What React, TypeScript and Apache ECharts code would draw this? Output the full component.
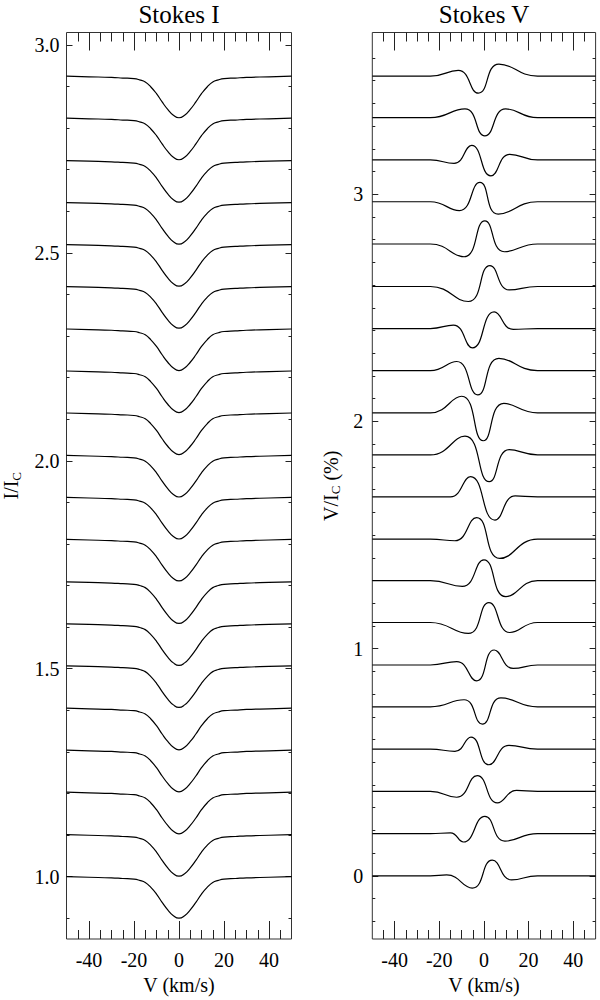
import React, { useEffect, useRef } from "react";
import * as echarts from "echarts";

// ---------- data ----------
const xMajorTicks = [-40, -20, 0, 20, 40];
const xMinorTicks = [-45, -35, -30, -25, -15, -10, -5, 5, 10, 15, 25, 30, 35, 45];

const yTicksI = [1.0, 1.5, 2.0, 2.5, 3.0];
const yMinorI = [0.9, 1.1, 1.2, 1.3, 1.4, 1.6, 1.7, 1.8, 1.9, 2.1, 2.2, 2.3, 2.4, 2.6, 2.7, 2.8, 2.9];

const yTicksV = [0, 1, 2, 3];
const yMinorV = [
  -0.2, -0.1, 0.1, 0.2, 0.3, 0.4, 0.5, 0.6, 0.7, 0.8, 0.9, 1.1, 1.2, 1.3, 1.4, 1.5, 1.6, 1.7, 1.8, 1.9,
  2.1, 2.2, 2.3, 2.4, 2.5, 2.6, 2.7, 2.8, 2.9, 3.1, 3.2, 3.3, 3.4, 3.5, 3.6,
];

// Stokes I: continuum levels of the 20 stacked profiles (bottom to top)
const baselinesI = [
  1.0, 1.101, 1.203, 1.304, 1.405, 1.507, 1.608, 1.709, 1.811, 1.912,
  2.013, 2.115, 2.216, 2.317, 2.419, 2.52, 2.621, 2.722, 2.824, 2.925,
];
// line depth (in I/Ic) and the profile shape (fraction of depth)
const depthI = 0.1;
const profileX = [-50, -40, -30, -25, -20, -17.5, -15, -12.5, -10, -7.5, -5, -2.5, 0, 2.5, 5, 7.5, 10, 12.5, 15, 17.5, 20, 25, 30, 40, 50];
const profileDepth = [0.0, 0.015, 0.03, 0.045, 0.06, 0.09, 0.14, 0.26, 0.42, 0.62, 0.8, 0.94, 1.0, 0.94, 0.8, 0.62, 0.42, 0.26, 0.14, 0.09, 0.06, 0.045, 0.03, 0.015, 0.0];

// Stokes V: offsets of the 20 stacked profiles (bottom to top), in %
const baselinesV = [
  0, 0.186, 0.372, 0.558, 0.744, 0.928, 1.115, 1.299, 1.482, 1.668,
  1.853, 2.038, 2.224, 2.409, 2.594, 2.781, 2.967, 3.151, 3.337, 3.52,
];
// extrema of each V profile: [velocity, amplitude]
const vExtrema = [
  [[-16.7, 0.004], [-5.2, -0.054], [3.7, 0.069], [12.4, -0.018]],
  [[-15, 0.003], [-9.2, -0.037], [0.4, 0.076], [9.4, -0.033]],
  [[-12.2, -0.026], [-3.0, 0.069], [6.0, -0.051], [14.6, 0.004]],
  [[-13, -0.01], [-5.8, 0.053], [2.2, -0.069], [11.2, 0.016]],
  [[-8.9, 0.031], [-0.7, -0.076], [7.6, 0.039]],
  [[-12.2, 0.015], [-3.3, -0.07], [4.6, 0.066], [13.1, -0.015]],
  [[-7.0, -0.048], [2.2, 0.088], [11.6, -0.044]],
  [[-9.7, -0.025], [0.0, 0.092], [9.8, -0.07]],
  [[-13, -0.007], [-3.3, 0.095], [7.1, -0.085]],
  [[-15, 0.0], [-6.0, 0.089], [4.9, -0.102], [14, 0.004]],
  [[-8.5, 0.082], [2.4, -0.118], [11.3, 0.023]],
  [[-10, 0.073], [-0.3, -0.123], [8.9, 0.042]],
  [[-12.2, 0.04], [-2.8, -0.107], [6.7, 0.054]],
  [[-13.7, 0.015], [-5.1, -0.085], [4.6, 0.073], [13.1, -0.004]],
  [[-7.0, -0.066], [2.7, 0.092], [11.3, -0.015]],
  [[-8.9, -0.056], [0.4, 0.102], [9.1, -0.034]],
  [[-11, -0.039], [-1.8, 0.085], [6.4, -0.054]],
  [[-13.4, -0.015], [-5.5, 0.064], [3.1, -0.07], [11.6, 0.025]],
  [[-8.5, 0.039], [0.4, -0.08], [9.7, 0.039]],
  [[-11.5, 0.025], [-2.5, -0.075], [6.7, 0.053]],
];
const vEdgesLeft = [[-50, 0], [-24, 0]];
const vEdgesRight = [[24, 0], [50, 0]];

// ---------- chart ----------
const FONT = "'Liberation Serif', 'Times New Roman', serif";
const TICK_COLOR = "#222";

function xAxisDef(gridIndex: number, position: string, values: number[], len: number, withLabels: boolean) {
  const ax: any = {
    type: "value",
    gridIndex,
    position,
    min: -50,
    max: 50,
    axisLine: { show: false, onZero: false },
    splitLine: { show: false },
    axisTick: { show: true, inside: true, length: len, customValues: values, lineStyle: { color: TICK_COLOR, width: 1 } },
    axisLabel: withLabels
      ? { show: true, customValues: values, fontSize: 20, color: "#000", fontFamily: FONT, margin: 11 }
      : { show: false },
  };
  if (withLabels) {
    ax.name = "V (km/s)";
    ax.nameLocation = "middle";
    ax.nameGap = 36;
    ax.nameTextStyle = { fontSize: 20, color: "#000", fontFamily: FONT };
  }
  return ax;
}

function yAxisDef(
  gridIndex: number,
  position: string,
  min: number,
  max: number,
  values: number[],
  len: number,
  labels: null | { fmt: (v: number) => string; name: string; gap: number; margin: number }
) {
  const ax: any = {
    type: "value",
    gridIndex,
    position,
    min,
    max,
    axisLine: { show: false, onZero: false },
    splitLine: { show: false },
    axisTick: { show: true, inside: true, length: len, customValues: values, lineStyle: { color: TICK_COLOR, width: 1 } },
    axisLabel: labels
      ? { show: true, customValues: values, fontSize: 20, color: "#000", fontFamily: FONT, margin: labels.margin, formatter: labels.fmt }
      : { show: false },
  };
  if (labels) {
    ax.name = labels.name;
    ax.nameLocation = "middle";
    ax.nameGap = labels.gap;
    ax.nameTextStyle = {
      fontSize: 20,
      color: "#000",
      fontFamily: FONT,
      rich: {
        a: { fontSize: 20, fontFamily: FONT, color: "#000" },
        b: { fontSize: 13, fontFamily: FONT, color: "#000", verticalAlign: "bottom", padding: [10, 0, 0, 0] },
      },
    };
  }
  return ax;
}

export default function App() {
  const ref = useRef<HTMLDivElement>(null);

  useEffect(() => {
    if (!ref.current) return;
    const chart = echarts.init(ref.current, null, { renderer: "svg" });

    const series: any[] = [];
    baselinesI.forEach((b) => {
      series.push({
        type: "line",
        xAxisIndex: 0,
        yAxisIndex: 0,
        showSymbol: false,
        smooth: true,
        silent: true,
        lineStyle: { color: "#000", width: 1.2 },
        data: profileX.map((x, k) => [x, b - depthI * profileDepth[k]]),
      });
    });
    baselinesV.forEach((b, i) => {
      const pts = [...vEdgesLeft, ...vExtrema[i], ...vEdgesRight];
      series.push({
        type: "line",
        xAxisIndex: 4,
        yAxisIndex: 4,
        showSymbol: false,
        smooth: 0.5,
        silent: true,
        lineStyle: { color: "#000", width: 1.2 },
        data: pts.map((p) => [p[0], b + p[1]]),
      });
    });

    const gridStyle = { show: true, borderColor: "#333", borderWidth: 1, backgroundColor: "transparent" };

    chart.setOption({
      animation: false,
      textStyle: { fontFamily: FONT },
      grid: [
        { ...gridStyle, left: 66.5, width: 225, top: 32.5, height: 911 },
        { ...gridStyle, left: 372.3, width: 223.3, top: 32.5, height: 911 },
      ],
      xAxis: [
        xAxisDef(0, "bottom", xMajorTicks, 18, true),
        xAxisDef(0, "bottom", xMinorTicks, 9, false),
        xAxisDef(0, "top", xMajorTicks, 18, false),
        xAxisDef(0, "top", xMinorTicks, 9, false),
        xAxisDef(1, "bottom", xMajorTicks, 18, true),
        xAxisDef(1, "bottom", xMinorTicks, 9, false),
        xAxisDef(1, "top", xMajorTicks, 18, false),
        xAxisDef(1, "top", xMinorTicks, 9, false),
      ],
      yAxis: [
        yAxisDef(0, "left", 0.85, 3.03, yTicksI, 6, { fmt: (v) => v.toFixed(1), name: "{a|I/I}{b|C}", gap: 44, margin: 7 }),
        yAxisDef(0, "left", 0.85, 3.03, yMinorI, 3, null),
        yAxisDef(0, "right", 0.85, 3.03, yTicksI, 6, null),
        yAxisDef(0, "right", 0.85, 3.03, yMinorI, 3, null),
        yAxisDef(1, "left", -0.278, 3.712, yTicksV, 6, { fmt: (v) => String(Math.round(v)), name: "{a|V/I}{b|C}{a| (%)}", gap: 30, margin: 9 }),
        yAxisDef(1, "left", -0.278, 3.712, yMinorV, 3, null),
        yAxisDef(1, "right", -0.278, 3.712, yTicksV, 6, null),
        yAxisDef(1, "right", -0.278, 3.712, yMinorV, 3, null),
      ],
      graphic: [
        {
          type: "text",
          x: 179,
          y: 2,
          style: { text: "Stokes I", fontSize: 25, fontFamily: FONT, fill: "#000", align: "center", verticalAlign: "top" },
        },
        {
          type: "text",
          x: 484,
          y: 2,
          style: { text: "Stokes V", fontSize: 25, fontFamily: FONT, fill: "#000", align: "center", verticalAlign: "top" },
        },
      ],
      series,
    });

    return () => chart.dispose();
  }, []);

  return <div ref={ref} style={{ position: "fixed", left: 0, top: 0, width: 600, height: 1000, background: "#fff" }} />;
}
